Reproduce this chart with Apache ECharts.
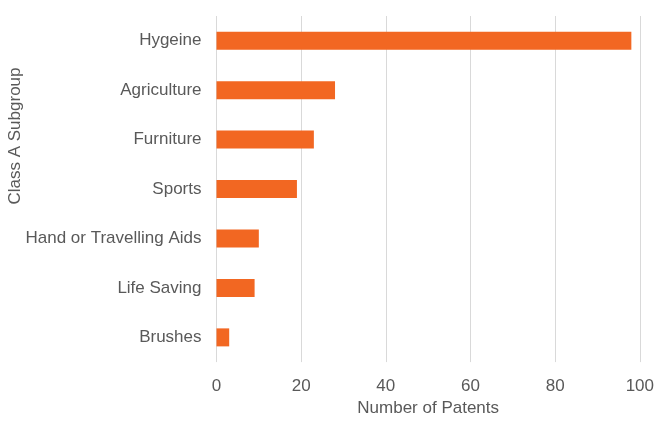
<!DOCTYPE html>
<html>
<head>
<meta charset="utf-8">
<script src="https://cdn.jsdelivr.net/npm/echarts@6/dist/echarts.min.js"></script>
<style>html,body{margin:0;padding:0;background:#fff;}#c{width:657px;height:422px;}</style>
</head>
<body>
<div id="c"></div>
<script>
const categories = ["Hygeine", "Agriculture", "Furniture", "Sports", "Hand or Travelling Aids", "Life Saving", "Brushes"];
const patents = [98, 28, 23, 19, 10, 9, 3];
const xTicks = [0, 20, 40, 60, 80, 100];
const xTitle = "Number of Patents";
const yTitle = "Class A Subgroup";

const chart = echarts.init(document.getElementById('c'), null, {renderer: 'canvas'});
const font = '"Liberation Sans", Arial, sans-serif';
const fs = 17;
chart.setOption({
  animation: false,
  backgroundColor: '#fff',
  grid: {left: 216.5, right: 16, top: 16, bottom: 54, containLabel: false},
  xAxis: {
    type: 'value', min: xTicks[0], max: xTicks[xTicks.length - 1], interval: 20,
    axisLine: {show: false}, axisTick: {show: false},
    splitLine: {show: true, lineStyle: {color: '#d9d9d9', width: 1}},
    axisLabel: {color: '#595959', fontSize: fs, fontFamily: font, margin: 16},
    name: xTitle, nameLocation: 'middle', nameGap: 31,
    nameTextStyle: {color: '#595959', fontSize: fs, fontFamily: font}
  },
  yAxis: {
    type: 'category', data: categories, inverse: true,
    axisLine: {show: false}, axisTick: {show: false},
    axisLabel: {color: '#595959', fontSize: fs, fontFamily: font, margin: 15}
  },
  graphic: [{
    type: 'text', x: 15, y: 136, rotation: Math.PI / 2,
    style: {text: yTitle, fill: '#595959', font: fs + 'px ' + font, align: 'center', verticalAlign: 'middle'}
  }],
  series: [{
    type: 'bar', data: patents, barWidth: 18,
    itemStyle: {color: '#F26722'}
  }]
});
</script>
</body>
</html>
